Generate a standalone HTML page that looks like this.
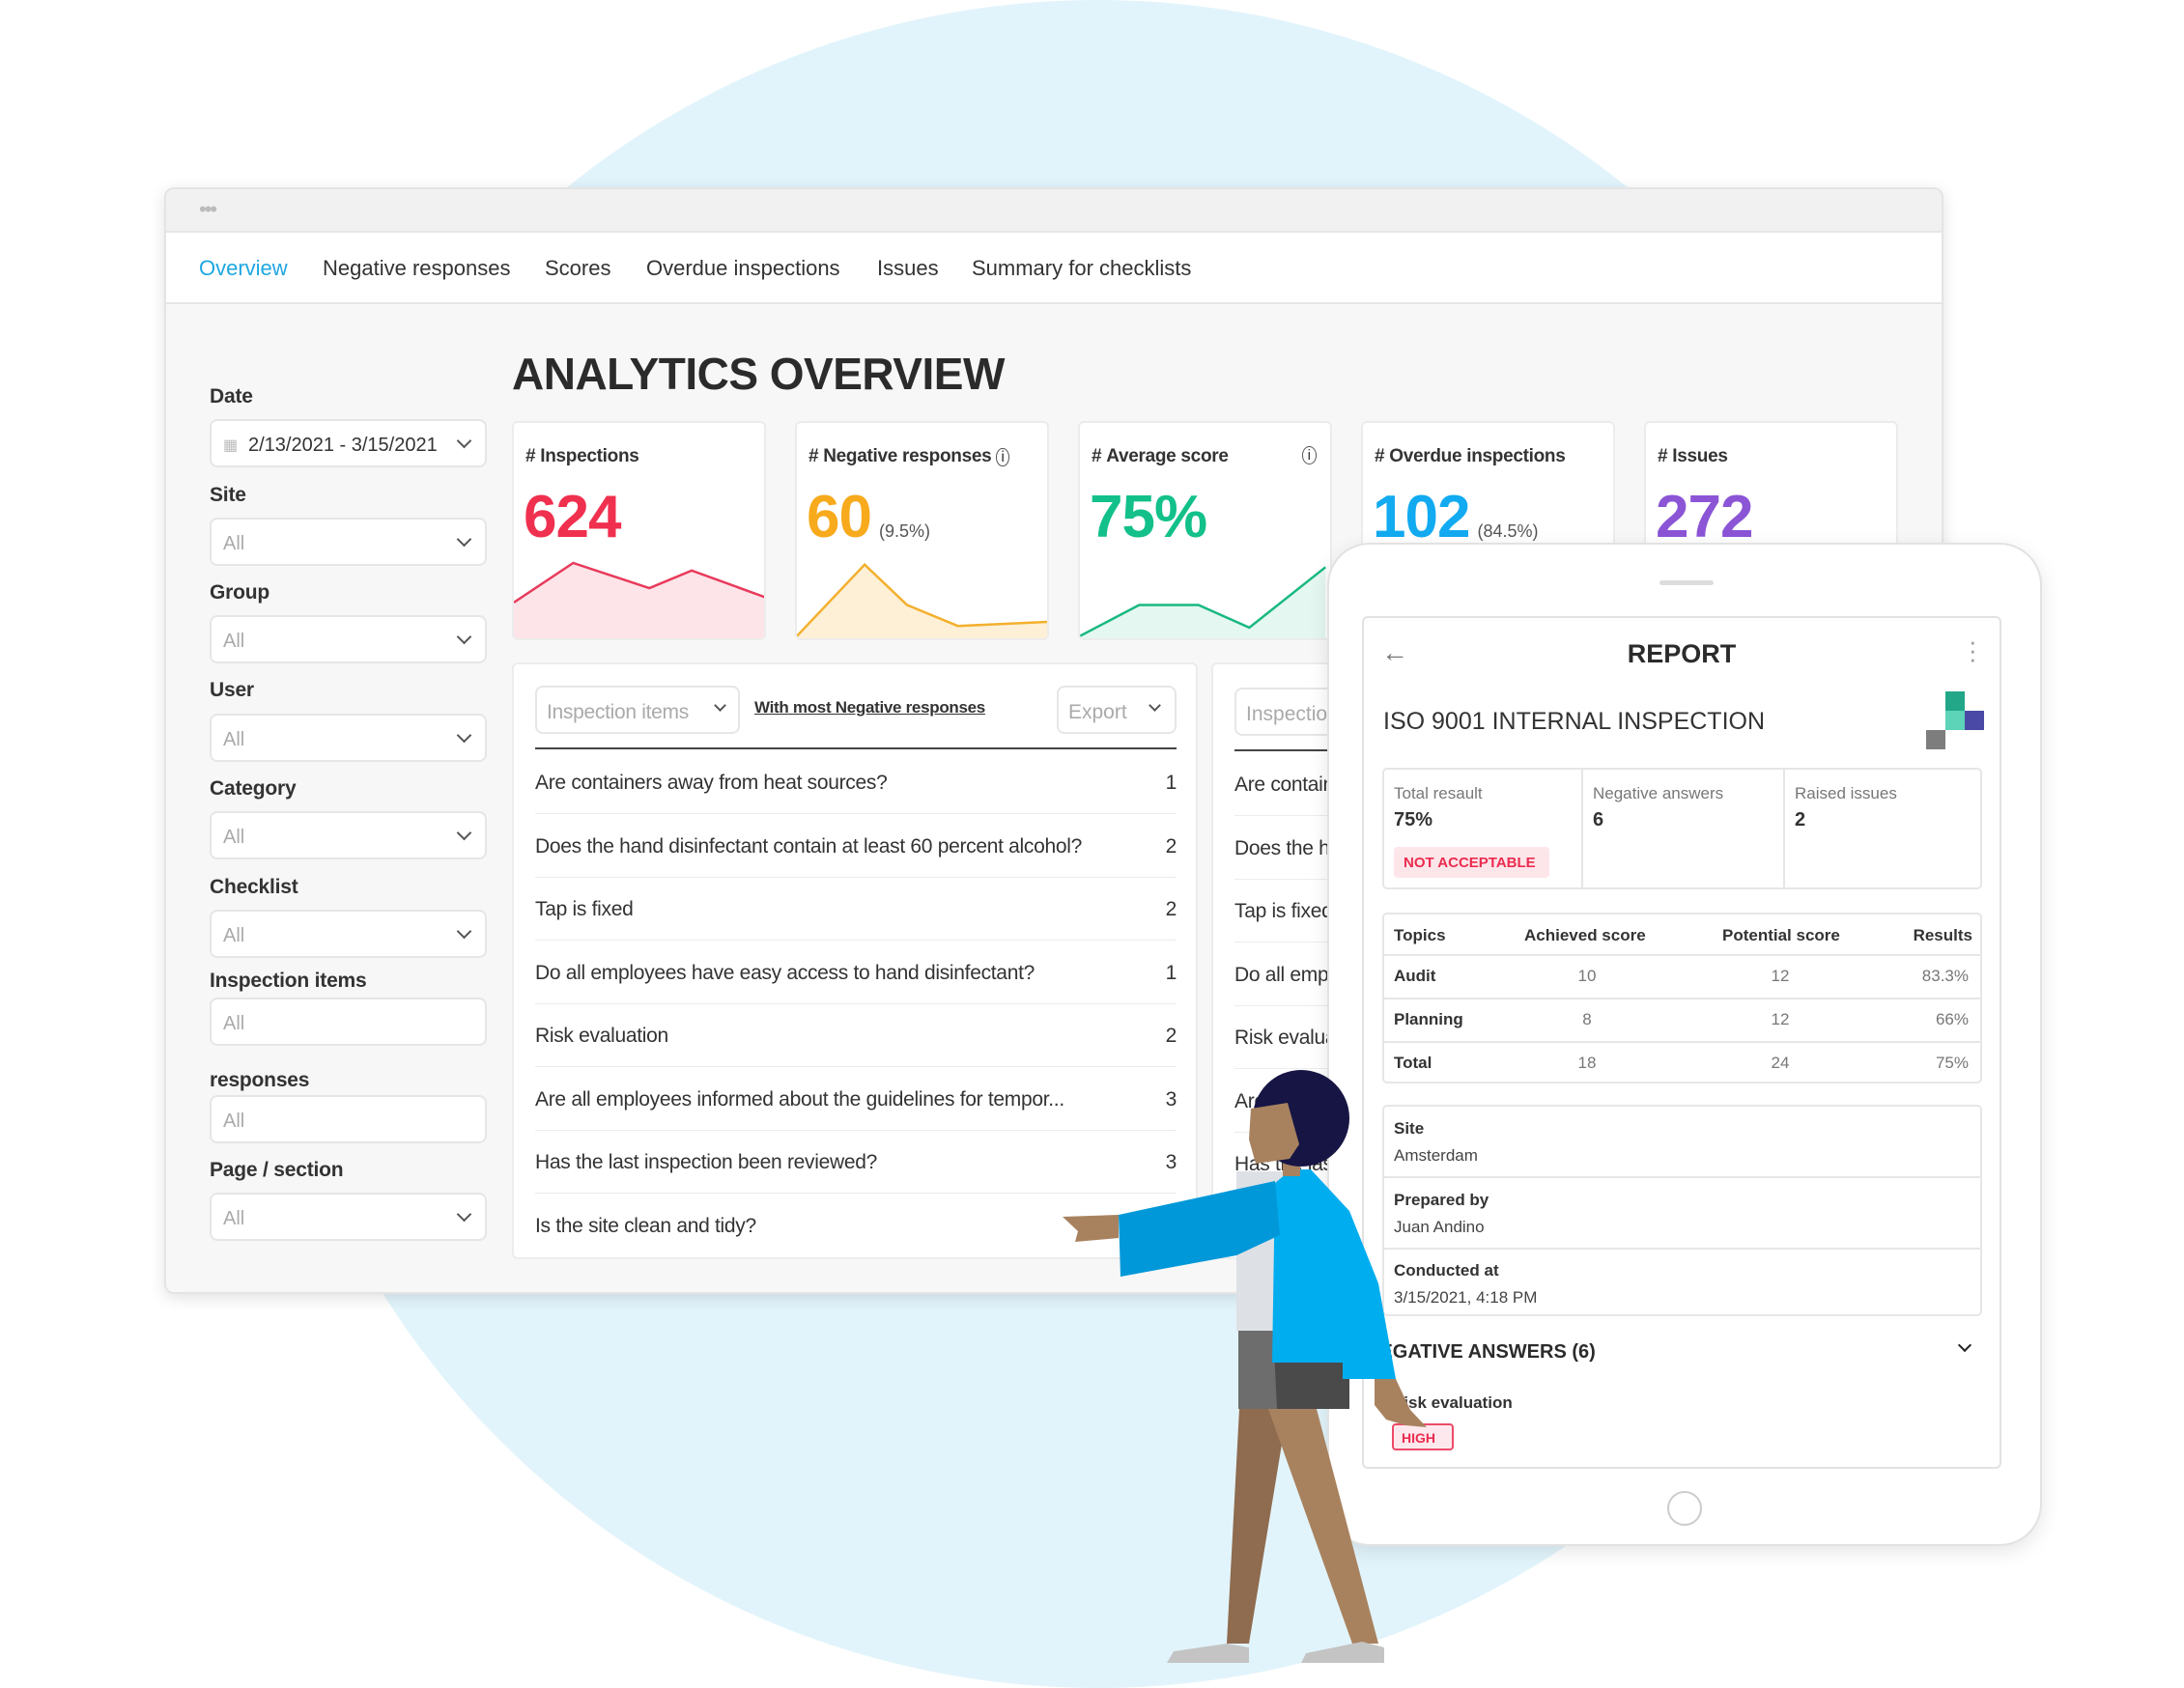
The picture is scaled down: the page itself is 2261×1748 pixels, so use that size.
<!DOCTYPE html>
<html><head><meta charset="utf-8"><style>
*{box-sizing:border-box;margin:0;padding:0}
body{width:2261px;height:1729px;overflow:hidden;background:#fff;font-family:"Liberation Sans",sans-serif;color:#333;position:relative}
.a{position:absolute}
.t{position:absolute;white-space:nowrap;line-height:1}
.lbl{font-size:21px;font-weight:bold;color:#333;letter-spacing:-0.2px}
.inp{position:absolute;background:#fff;border:2px solid #e6e6e6;border-radius:8px;height:50px;width:287px}
.inp span{position:absolute;left:12px;top:14px;font-size:20px;color:#aaa}
.chev{position:absolute;width:11px;height:11px;border-right:2.5px solid #555;border-bottom:2.5px solid #555;transform:rotate(45deg)}
.card{position:absolute;background:#fff;border:2px solid #ececec;border-radius:6px;top:436px;width:263px;height:227px;overflow:hidden}
.card .h{position:absolute;left:12px;top:24px;font-size:19px;font-weight:bold;color:#333;white-space:nowrap;letter-spacing:-0.3px}
.card .n{position:absolute;left:10px;top:62px;font-size:62px;font-weight:bold;white-space:nowrap;letter-spacing:-1px}
.card .p{font-size:18px;font-weight:normal;color:#555;letter-spacing:0;margin-left:8px}
.row{position:absolute;left:554px;width:664px;height:66px;border-bottom:1.5px solid #ececec;font-size:21px;letter-spacing:-0.3px;color:#333}
.row .q{position:absolute;left:0;top:22px;white-space:nowrap}
.row .c{position:absolute;right:0;top:22px}
.small{font-size:17px;color:#777}
</style></head><body>
<div class="a" style="left:262px;top:0;width:1748px;height:1748px;border-radius:50%;background:#e2f4fb"></div>

<div class="a" style="left:170px;top:194px;width:1842px;height:1146px;background:#f7f7f7;border:2px solid #e4e4e4;border-radius:10px;box-shadow:0 4px 16px rgba(0,0,0,0.12);overflow:hidden">
 <div class="a" style="left:0;top:0;width:100%;height:45px;background:#f1f1f1;border-bottom:2px solid #e6e6e6">
  <div class="t" style="left:34px;top:10px;font-size:22px;color:#bbb;letter-spacing:-2px">•••</div>
 </div>
 <div class="a" style="left:0;top:45px;width:100%;height:74px;background:#fff;border-bottom:2px solid #e6e6e6">
  <div class="t" style="left:34px;top:26px;font-size:22px;color:#1ea7e1">Overview</div>
  <div class="t" style="left:162px;top:26px;font-size:22px">Negative responses</div>
  <div class="t" style="left:392px;top:26px;font-size:22px">Scores</div>
  <div class="t" style="left:497px;top:26px;font-size:22px">Overdue inspections</div>
  <div class="t" style="left:736px;top:26px;font-size:22px">Issues</div>
  <div class="t" style="left:834px;top:26px;font-size:22px">Summary for checklists</div>
 </div>
</div>

<div class="t" style="left:530px;top:364px;font-size:46px;font-weight:bold;color:#2b2b2b;letter-spacing:-0.5px">ANALYTICS OVERVIEW</div>

<div class="t lbl" style="left:217px;top:400px">Date</div>
<div class="inp" style="left:217px;top:434px"><span style="color:#bbb;font-size:16px;top:15px">▦</span><span style="left:38px;color:#333">2/13/2021 - 3/15/2021</span><div class="chev" style="right:16px;top:15px"></div></div>

<div class="t lbl" style="left:217px;top:502px">Site</div>
<div class="inp" style="left:217px;top:536px"><span>All</span><div class="chev" style="right:16px;top:15px"></div></div>
<div class="t lbl" style="left:217px;top:603px">Group</div>
<div class="inp" style="left:217px;top:637px"><span>All</span><div class="chev" style="right:16px;top:15px"></div></div>
<div class="t lbl" style="left:217px;top:704px">User</div>
<div class="inp" style="left:217px;top:739px"><span>All</span><div class="chev" style="right:16px;top:15px"></div></div>
<div class="t lbl" style="left:217px;top:806px">Category</div>
<div class="inp" style="left:217px;top:840px"><span>All</span><div class="chev" style="right:16px;top:15px"></div></div>
<div class="t lbl" style="left:217px;top:908px">Checklist</div>
<div class="inp" style="left:217px;top:942px"><span>All</span><div class="chev" style="right:16px;top:15px"></div></div>
<div class="t lbl" style="left:217px;top:1005px">Inspection items</div>
<div class="inp" style="left:217px;top:1033px"><span>All</span></div>
<div class="t lbl" style="left:217px;top:1108px">responses</div>
<div class="inp" style="left:217px;top:1134px"><span>All</span></div>
<div class="t lbl" style="left:217px;top:1201px">Page / section</div>
<div class="inp" style="left:217px;top:1235px"><span>All</span><div class="chev" style="right:16px;top:15px"></div></div>

<div class="card" style="left:530px"><div class="h">#&nbsp;Inspections</div><div class="n" style="color:#f0304f">624</div><svg id="sp0" class="a" style="left:0;top:0" width="263" height="227"></svg></div>
<div class="card" style="left:823px"><div class="h">#&nbsp;Negative responses <span style="font-weight:normal;font-size:16px;border:1.5px solid #555;border-radius:50%;padding:0 4px">i</span></div><div class="n" style="color:#f7aa1c">60<span class="p">(9.5%)</span></div><svg id="sp1" class="a" style="left:0;top:0" width="263" height="227"></svg></div>
<div class="card" style="left:1116px"><div class="h">#&nbsp;Average score</div><div class="t" style="right:14px;top:24px;font-size:15px;border:1.5px solid #555;border-radius:50%;padding:1px 5px">i</div><div class="n" style="color:#13c08a">75%</div><svg id="sp2" class="a" style="left:0;top:0" width="263" height="227"></svg></div>
<div class="card" style="left:1409px"><div class="h">#&nbsp;Overdue inspections</div><div class="n" style="color:#12aaf0">102<span class="p">(84.5%)</span></div></div>
<div class="card" style="left:1702px"><div class="h">#&nbsp;Issues</div><div class="n" style="color:#8b55d6">272</div></div>

<div class="a" style="left:530px;top:686px;width:710px;height:618px;background:#fff;border:2px solid #ececec;border-radius:6px"></div>
<div class="a" style="left:554px;top:710px;width:212px;height:50px;border:2px solid #e6e6e6;border-radius:8px;background:#fff"><span class="t" style="left:10px;top:15px;font-size:21px;color:#aaa;letter-spacing:-0.3px">Inspection items</span><div class="chev" style="right:14px;top:14px;width:9px;height:9px"></div></div>
<div class="t" style="left:781px;top:724px;font-size:17px;font-weight:bold;text-decoration:underline;letter-spacing:-0.3px">With most Negative responses</div>
<div class="a" style="left:1094px;top:710px;width:124px;height:50px;border:2px solid #e6e6e6;border-radius:8px;background:#fff"><span class="t" style="left:10px;top:15px;font-size:21px;color:#aaa">Export</span><div class="chev" style="right:16px;top:14px;width:9px;height:9px"></div></div>
<div class="a" style="left:554px;top:774px;width:664px;height:2px;background:#444"></div>
<div id="rows"></div>

<div class="a" style="left:1254px;top:686px;width:300px;height:618px;background:#fff;border:2px solid #ececec;border-radius:6px;overflow:hidden">
 <div class="a" style="left:22px;top:24px;width:200px;height:50px;border:2px solid #e6e6e6;border-radius:8px"><span class="t" style="left:10px;top:15px;font-size:21px;color:#aaa">Inspection items</span></div>
 <div class="a" style="left:22px;top:88px;width:260px;height:2px;background:#444"></div>
 <div id="rows2"></div>
</div>

<div class="a" style="left:1374px;top:562px;width:740px;height:1039px;background:#fff;border:2px solid #e2e2e2;border-radius:44px;box-shadow:0 6px 20px rgba(0,0,0,0.10)">
 <div class="a" style="left:342px;top:37px;width:56px;height:5px;border-radius:3px;background:#ddd"></div>
 <div class="a" style="left:350px;top:980px;width:36px;height:36px;border:2px solid #ccc;border-radius:50%"></div>
</div>
<div class="a" style="left:1410px;top:638px;width:662px;height:883px;border:2px solid #e2e2e2;border-radius:6px;background:#fff">
 <div class="t" style="left:18px;top:22px;font-size:28px;color:#777">←</div>
 <div class="t" style="left:0;width:658px;text-align:center;top:24px;font-size:27px;font-weight:bold;color:#2b2b2b">REPORT</div>
 <div class="t" style="left:626px;top:20px;font-size:26px;color:#999;line-height:0.35;text-align:center">·<br>·<br>·</div>
 <div class="t" style="left:20px;top:95px;font-size:25px;color:#333">ISO 9001 INTERNAL INSPECTION</div>
 <div class="a" style="left:602px;top:76px;width:20px;height:20px;background:#22a788"></div>
 <div class="a" style="left:602px;top:96px;width:20px;height:20px;background:#5dd3b8"></div>
 <div class="a" style="left:622px;top:96px;width:20px;height:20px;background:#4a4aa6"></div>
 <div class="a" style="left:582px;top:116px;width:20px;height:20px;background:#7d7d7d"></div>

 <div class="a" style="left:19px;top:155px;width:621px;height:126px;border:2px solid #e6e6e6;border-radius:5px">
  <div class="a" style="left:204px;top:0;width:2px;height:100%;background:#e6e6e6"></div>
  <div class="a" style="left:413px;top:0;width:2px;height:100%;background:#e6e6e6"></div>
  <div class="t small" style="left:10px;top:16px">Total resault</div>
  <div class="t" style="left:10px;top:42px;font-size:20px;font-weight:bold">75%</div>
  <div class="a" style="left:10px;top:80px;width:161px;height:32px;background:#fde6ea;border-radius:4px"><span class="t" style="left:10px;top:9px;font-size:15px;font-weight:bold;color:#ec2b4f">NOT ACCEPTABLE</span></div>
  <div class="t small" style="left:216px;top:16px">Negative answers</div>
  <div class="t" style="left:216px;top:42px;font-size:20px;font-weight:bold">6</div>
  <div class="t small" style="left:425px;top:16px">Raised issues</div>
  <div class="t" style="left:425px;top:42px;font-size:20px;font-weight:bold">2</div>
 </div>

 <div class="a" style="left:19px;top:305px;width:621px;height:177px;border:2px solid #e6e6e6;border-radius:5px;font-size:17px">
  <div class="a" style="left:0;top:41px;width:100%;height:1.5px;background:#e6e6e6"></div>
  <div class="a" style="left:0;top:86px;width:100%;height:1.5px;background:#e6e6e6"></div>
  <div class="a" style="left:0;top:131px;width:100%;height:1.5px;background:#e6e6e6"></div>
  <div class="t" style="left:10px;top:13px;font-weight:bold">Topics</div>
  <div class="t" style="left:145px;width:120px;text-align:center;top:13px;font-weight:bold">Achieved score</div>
  <div class="t" style="left:350px;width:120px;text-align:center;top:13px;font-weight:bold">Potential score</div>
  <div class="t" style="right:8px;top:13px;font-weight:bold">Results</div>
  <div id="topicrows"></div>
 </div>

 <div class="a" style="left:19px;top:504px;width:621px;height:219px;border:2px solid #e6e6e6;border-radius:5px;font-size:17px">
  <div class="t" style="left:10px;top:14px;font-weight:bold">Site</div>
  <div class="t" style="left:10px;top:42px;color:#444">Amsterdam</div>
  <div class="a" style="left:0;top:72px;width:100%;height:1.5px;background:#e6e6e6"></div>
  <div class="t" style="left:10px;top:88px;font-weight:bold">Prepared by</div>
  <div class="t" style="left:10px;top:116px;color:#444">Juan Andino</div>
  <div class="a" style="left:0;top:146px;width:100%;height:1.5px;background:#e6e6e6"></div>
  <div class="t" style="left:10px;top:161px;font-weight:bold">Conducted at</div>
  <div class="t" style="left:10px;top:189px;color:#444">3/15/2021, 4:18 PM</div>
 </div>
 <div class="t" style="left:2px;top:750px;font-size:20px;font-weight:bold;color:#2b2b2b">NEGATIVE ANSWERS (6)</div>
 <div class="chev" style="left:617px;top:748px;width:10px;height:10px;border-color:#222"></div>
 <div class="t" style="left:29px;top:804px;font-size:17px;font-weight:bold">Risk evaluation</div>
 <div class="a" style="left:29px;top:834px;width:64px;height:28px;border:2px solid #ec4b68;background:#fde9ed;border-radius:4px"><span class="t" style="left:8px;top:6px;font-size:14px;font-weight:bold;color:#ec2b4f">HIGH</span></div>
</div>

<svg class="a" style="left:0;top:0" width="2261" height="1729">
 <polygon points="1283,1459 1333,1459 1293,1702 1270,1702" fill="#8f6b4f"/>
 <polygon points="1313,1459 1363,1459 1427,1702 1400,1702" fill="#a8825f"/>
 <polygon points="1208,1722 1215,1710 1270,1702 1293,1706 1293,1722" fill="#c4c4c4"/>
 <polygon points="1347,1722 1352,1712 1410,1700 1433,1706 1433,1722" fill="#c4c4c4"/>
 <rect x="1282" y="1378" width="115" height="81" fill="#4a4a4a"/>
 <polygon points="1282,1378 1318,1378 1322,1459 1282,1459" fill="#6d6d6d"/>
 <polygon points="1280,1213 1340,1213 1337,1378 1280,1378" fill="#dde0e5"/>
 <polygon points="1337,1211 1357,1211 1397,1254 1427,1329 1445,1428 1390,1428 1390,1411 1317,1411 1320,1225" fill="#00adef"/>
 <polygon points="1423,1428 1445,1428 1460,1460 1477,1478 1455,1476 1435,1470 1423,1455" fill="#a8825f"/>
 <polygon points="1158,1258 1320,1223 1325,1279 1280,1300 1160,1322" fill="#0098d9"/>
 <polygon points="1100,1260 1158,1258 1158,1282 1113,1286 1116,1275" fill="#a8825f"/>
 <rect x="1328" y="1190" width="18" height="28" fill="#a8825f"/>
 <circle cx="1347" cy="1158" r="50" fill="#171544"/>
 <polygon points="1295,1148 1333,1142 1345,1185 1335,1200 1300,1205 1293,1180" fill="#a8825f"/>
</svg>

<script>
const spDays0=[0,7,16,21,30]; const spVals0=[45,92,62,83,50];
const spDays1=[0,8,13,19,30]; const spVals1=[5,90,42,17,22];
const spDays2=[0,7,14,20,29]; const spVals2=[5,42,42,15,87];
const spColors=[["#e83a5b","#fde4e8"],["#f3b02f","#fdf0d6"],["#19b980","#e4f7f0"]];
const rowQuestions=["Are containers away from heat sources?","Does the hand disinfectant contain at least 60 percent alcohol?","Tap is fixed","Do all employees have easy access to hand disinfectant?","Risk evaluation","Are all employees informed about the guidelines  for tempor...","Has the last inspection been reviewed?","Is the site clean and tidy?"];
const rowCounts=[1,2,2,1,2,3,3,2];
const topicNames=["Audit","Planning","Total"];
const achieved=[10,8,18];
const potential=[12,12,24];
const results=["83.3%","66%","75%"];

const NS="http://www.w3.org/2000/svg";
function xS(d){return d/30*263;}
function yS(v){return 225-v/100*87;}
[[spDays0,spVals0],[spDays1,spVals1],[spDays2,spVals2]].forEach((s,i)=>{
  const svg=document.getElementById('sp'+i);
  const pts=s[0].map((d,j)=>xS(d)+','+yS(s[1][j]));
  const area=document.createElementNS(NS,'polygon');
  area.setAttribute('points',xS(s[0][0])+',227 '+pts.join(' ')+' '+xS(s[0][s[0].length-1])+',227');
  area.setAttribute('fill',spColors[i][1]);
  
  
  svg.appendChild(area);
  const line=document.createElementNS(NS,'polyline');
  line.setAttribute('points',pts.join(' '));
  line.setAttribute('fill','none');
  line.setAttribute('stroke',spColors[i][0]);
  line.setAttribute('stroke-width','2.5');
  
  
  svg.appendChild(line);
});
const rows=document.getElementById('rows');
const rows2=document.getElementById('rows2');
rowQuestions.forEach((q,i)=>{
  const r=document.createElement('div');
  r.className='row';
  r.style.top=(777+i*65.5)+'px';
  if(i===rowQuestions.length-1) r.style.borderBottom='none';
  
  
  r.innerHTML='<span class="q">'+q+'</span><span class="c">'+rowCounts[i]+'</span>';
  rows.appendChild(r);
  const r2=document.createElement('div');
  r2.className='row';
  r2.style.left='22px';r2.style.width='280px';
  r2.style.top=(91+i*65.5)+'px';
  
  
  r2.innerHTML='<span class="q">'+q+'</span>';
  rows2.appendChild(r2);
});
const tr=document.getElementById('topicrows');
topicNames.forEach((n,i)=>{
  const y=41+i*45+14;
  const d=document.createElement('div');
  
  
  d.innerHTML='<div class="t" style="left:10px;top:'+y+'px;font-weight:bold">'+n+'</div>'+
   '<div class="t" style="left:150px;width:120px;text-align:center;top:'+y+'px;color:#777">'+achieved[i]+'</div>'+
   '<div class="t" style="left:350px;width:120px;text-align:center;top:'+y+'px;color:#777">'+potential[i]+'</div>'+
   '<div class="t" style="right:12px;top:'+y+'px;color:#777">'+results[i]+'</div>';
  tr.appendChild(d);
});
</script>
</body></html>
